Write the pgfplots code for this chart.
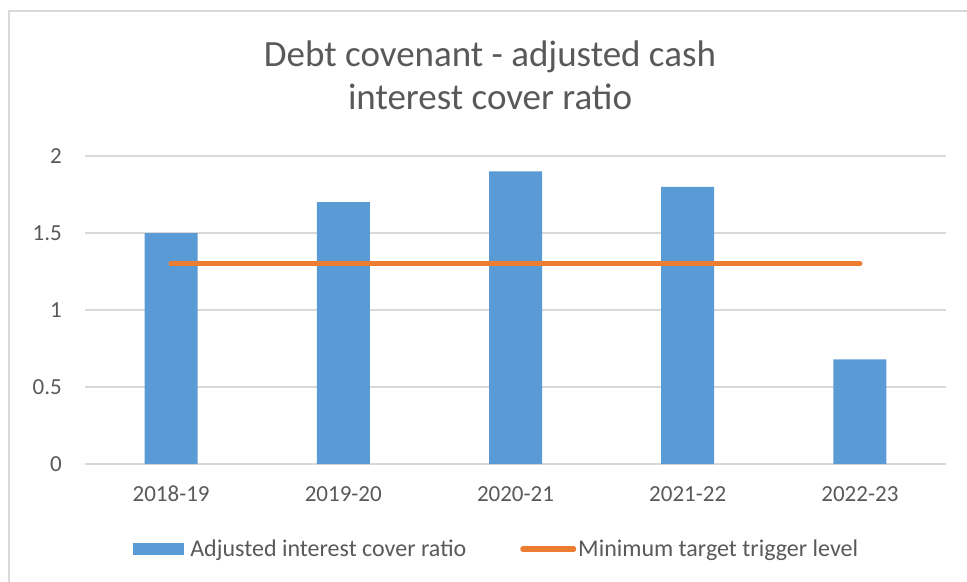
\documentclass[border=0pt]{standalone}
\usepackage{pgfplots}
\pgfplotsset{compat=1.18}
\usepackage{fontspec}
\setmainfont{Carlito}
\definecolor{barblue}{HTML}{5B9BD5}
\definecolor{lineorange}{HTML}{ED7D31}
\definecolor{txtgray}{HTML}{595959}
\definecolor{gridgray}{HTML}{D9D9D9}
\begin{document}
\begin{tikzpicture}
\path[use as bounding box] (0,0) rectangle (967bp,-582bp);
\draw[gridgray, line width=2bp] (9bp,-582bp) -- (9bp,-11bp) -- (967bp,-11bp);
\node[anchor=base, text=txtgray, font=\fontsize{37bp}{44bp}\selectfont] at (490bp,-66.5bp) {Debt covenant - adjusted cash};
\node[anchor=base, text=txtgray, font=\fontsize{37bp}{44bp}\selectfont] at (490bp,-109.5bp) {interest cover ratio};
\begin{axis}[
  at={(85bp,-464bp)}, anchor=south west,
  scale only axis, width=861bp, height=308bp,
  xmin=-0.5, xmax=4.5, ymin=0, ymax=2,
  xtick={0,1,2,3,4},
  xticklabels={2018-19,2019-20,2020-21,2021-22,2022-23},
  ytick={0,0.5,1,1.5,2},
  yticklabels={0,0.5,1,1.5,2},
  major tick length=0,
  ymajorgrids, grid style={gridgray, line width=1.5bp},
  axis x line*=bottom, axis y line*=left,
  x axis line style={gridgray, line width=1.5bp, -},
  y axis line style={draw=none},
  tick label style={font=\fontsize{23bp}{28bp}\selectfont, text=txtgray, inner sep=0pt},
  yticklabel style={anchor=east, xshift=-23bp},
  xticklabel style={anchor=north, yshift=-22bp},
  legend style={at={(0.477,-0.276)}, anchor=center, draw=none, fill=none,
    legend columns=2, font=\fontsize{24bp}{28bp}\selectfont, text=txtgray,
    nodes={inner sep=0pt},
    /tikz/every odd column/.append style={column sep=2bp},
    /tikz/every even column/.append style={column sep=54bp},
    inner sep=0pt},
]
\addplot[ybar, bar width=53bp, fill=barblue, draw=none,
  legend image code/.code={\fill[barblue] (0bp,-6bp) rectangle (51bp,6bp); \path (55bp,0bp);}]
  coordinates {(0,1.5) (1,1.7) (2,1.9) (3,1.8) (4,0.68)};
\addlegendentry{Adjusted interest cover ratio}
\addplot[lineorange, line width=5.3bp, line cap=round, mark=none,
  legend image code/.code={\draw[lineorange, line width=5.3bp, line cap=round] (2.65bp,0bp) -- (53.35bp,0bp);}]
  coordinates {(0,1.3) (1,1.3) (2,1.3) (3,1.3) (4,1.3)};
\addlegendentry{Minimum target trigger level}
\end{axis}
\end{tikzpicture}
\end{document}
